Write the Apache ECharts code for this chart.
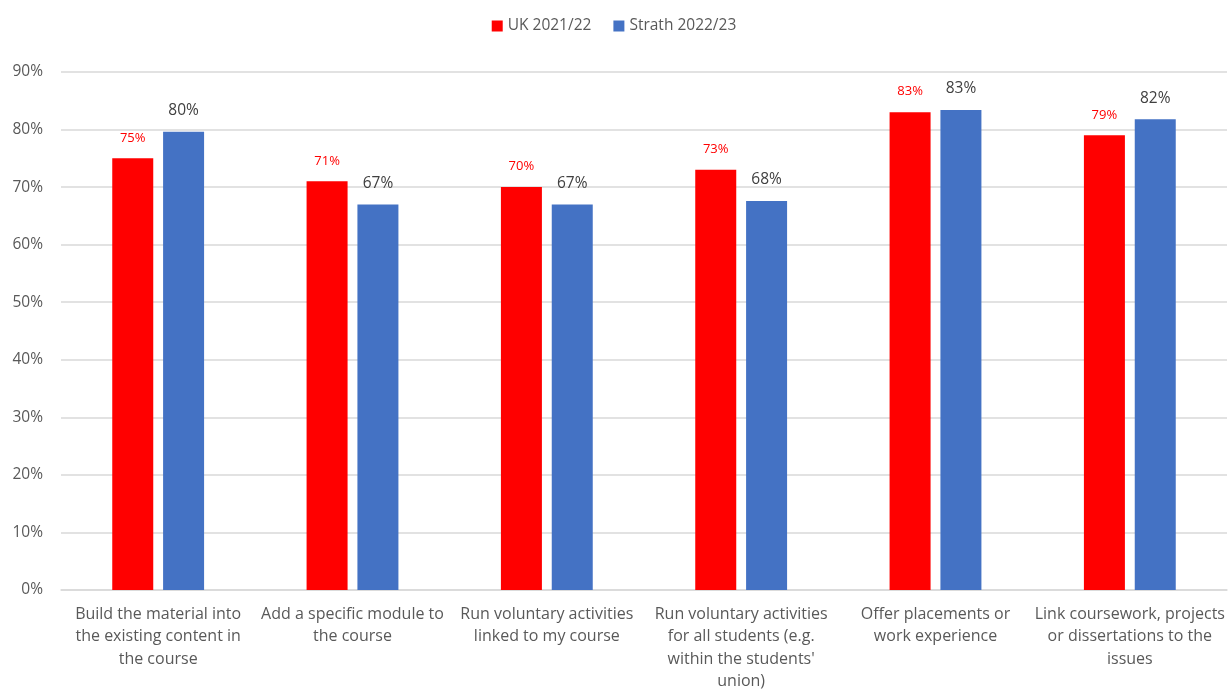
<!DOCTYPE html>
<html>
<head>
    <meta charset="UTF-8">
    <title>Chart</title>
    <script src="https://cdn.jsdelivr.net/npm/echarts@6/dist/echarts.min.js"></script>
    <style>
        html, body { margin: 0; padding: 0; background: #fff; }
        #chart { width: 1228px; height: 690px; }
    </style>
</head>
<body>
<div id="chart"></div>
<script>
    // categories and values
    var categories = [
        'Build the material into\nthe existing content in\nthe course',
        'Add a specific module to\nthe course',
        'Run voluntary activities\nlinked to my course',
        'Run voluntary activities\nfor all students (e.g.\nwithin the students\'\nunion)',
        'Offer placements or\nwork experience',
        'Link coursework, projects\nor dissertations to the\nissues'
    ];
    var ukValues = [75, 71, 70, 73, 83, 79];
    var strathValues = [79.6, 67, 67, 67.6, 83.4, 81.8];
    var yTicks = [0, 10, 20, 30, 40, 50, 60, 70, 80, 90];

    var font = '"Open Sans", Lato, sans-serif';
    var chart = echarts.init(document.getElementById('chart'));
    chart.setOption({
        animation: false,
        textStyle: { fontFamily: font },
        legend: {
            top: 13,
            left: 'center',
            itemWidth: 11,
            itemHeight: 11,
            itemGap: 22,
            icon: 'rect',
            textStyle: { fontSize: 15.5, color: '#595959', fontFamily: font },
            data: ['UK 2021/22', 'Strath 2022/23']
        },
        grid: { left: 61, right: 1, top: 72, bottom: 100, outerBoundsMode: 'none' },
        xAxis: {
            type: 'category',
            data: categories,
            axisTick: { show: false },
            axisLine: { lineStyle: { color: '#d9d9d9', width: 1.5 } },
            axisLabel: {
                interval: 0,
                fontSize: 16,
                color: '#595959',
                lineHeight: 22.5,
                margin: 13,
                fontFamily: font
            }
        },
        yAxis: {
            type: 'value',
            min: yTicks[0],
            max: yTicks[yTicks.length - 1],
            interval: 10,
            axisLine: { show: false },
            axisTick: { show: false },
            splitLine: { lineStyle: { color: '#d9d9d9', width: 1.5 } },
            axisLabel: {
                fontSize: 15.5,
                color: '#595959',
                margin: 18,
                fontFamily: font,
                formatter: function (v) { return v + '%'; }
            }
        },
        series: [
            {
                name: 'UK 2021/22',
                type: 'bar',
                data: ukValues,
                barWidth: 41,
                barGap: '24%',
                itemStyle: { color: '#ff0000' },
                label: {
                    show: true,
                    position: 'top',
                    distance: 14,
                    fontSize: 13,
                    color: '#ff0000',
                    fontFamily: font,
                    formatter: function (p) { return Math.round(p.value) + '%'; }
                }
            },
            {
                name: 'Strath 2022/23',
                type: 'bar',
                data: strathValues,
                barWidth: 41,
                itemStyle: { color: '#4472c4' },
                label: {
                    show: true,
                    position: 'top',
                    distance: 13,
                    fontSize: 15.5,
                    color: '#404040',
                    fontFamily: font,
                    formatter: function (p) { return Math.round(p.value) + '%'; }
                }
            }
        ]
    });
</script>
</body>
</html>
